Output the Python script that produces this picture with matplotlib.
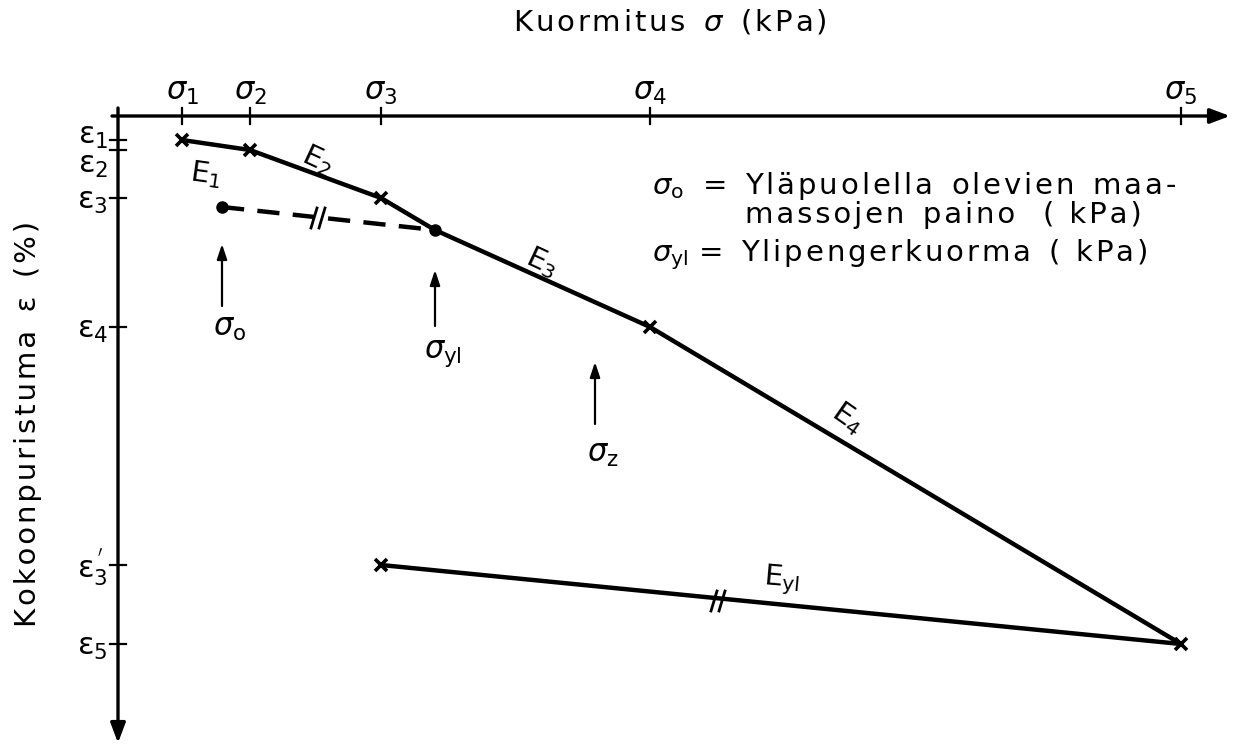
import matplotlib
matplotlib.use("Agg")
import matplotlib.pyplot as plt

plt.rcParams['font.family'] = ['DejaVu Sans']
plt.rcParams['mathtext.fontset'] = 'dejavusans'

# load steps on the horizontal axis (schematic units, origin at the axis corner)
sigma_labels = [r'$\sigma_1$', r'$\sigma_2$', r'$\sigma_3$', r'$\sigma_4$', r'$\sigma_5$']
sigma_ticks = [64, 132, 263, 532, 1063]

# strains on the vertical axis (downwards)
eps_labels = [r'$\mathrm{ε}_1$', r'$\mathrm{ε}_2$', r'$\mathrm{ε}_3$', r'$\mathrm{ε}_4$',
              r"$\mathrm{ε}_3^{\,'}$", r'$\mathrm{ε}_5$']
eps_ticks = [24, 34, 82, 211, 449, 528]

# loading curve: sigma1..sigma3, preconsolidation point, sigma4, sigma5
load_sigma = [64, 132, 263, 317, 532, 1063]
load_eps = [24, 34, 82, 114, 211, 528]
cross_idx = [0, 1, 2, 4, 5]

# unloading branch sigma5 -> sigma3
unload_sigma = [263, 1063]
unload_eps = [449, 528]

# overburden -> preconsolidation (dashed)
sigma_0 = 104
eps_0 = 91
sigma_yl = 317
eps_yl = 114
sigma_z = 477

HS = '\u200a'


def track(s):
    # slightly loose letter spacing for plain text
    return HS.join(s)


fig = plt.figure(figsize=(12.34, 7.45), dpi=100)
ax = fig.add_axes([0, 0, 1, 1])
ax.set_xlim(-118, 1116)
ax.set_ylim(629, -116)
ax.axis('off')

lw_ax = 2.4
# axes with arrow heads
ax.annotate('', xy=(1112, 0), xytext=(-6, 0),
            arrowprops=dict(arrowstyle='-|>,head_length=1.2,head_width=0.45', lw=lw_ax, color='k',
                            shrinkA=0, shrinkB=0))
ax.annotate('', xy=(0, 627), xytext=(0, -8),
            arrowprops=dict(arrowstyle='-|>,head_length=1.2,head_width=0.45', lw=lw_ax, color='k',
                            shrinkA=0, shrinkB=0))

for s, lab in zip(sigma_ticks, sigma_labels):
    ax.plot([s, s], [-8, 8], color='k', lw=1.6)
    ax.text(s, -16, lab, fontsize=22, ha='center', va='baseline')

eps_nudge = [-7, 12, 0, 0, 0, 0]
for e, lab, dy in zip(eps_ticks, eps_labels, eps_nudge):
    ax.plot([-8, 8], [e, e], color='k', lw=1.6)
    ax.text(-10, e + 3 + dy, lab, fontsize=22, ha='right', va='center')

ax.text(552, -94, track('Kuormitus') + r'  $\sigma$  ' + track('(kPa)'), fontsize=21,
        ha='center', va='center')
ax.text(-90, 308, track('Kokoonpuristuma') + '  ' + track('ε') + '  ' + track('(%)'),
        fontsize=21, ha='center', va='center', rotation=90)

# curves
ax.plot(load_sigma, load_eps, color='k', lw=3.2, solid_capstyle='round')
ax.plot(unload_sigma, unload_eps, color='k', lw=3.2, solid_capstyle='round')
ax.plot([load_sigma[i] for i in cross_idx], [load_eps[i] for i in cross_idx], 'x',
        color='k', ms=9, mew=2.6)
ax.plot(unload_sigma[0], unload_eps[0], 'x', color='k', ms=9, mew=2.6)
ax.plot([sigma_0, sigma_yl], [eps_0, eps_yl], color='k', lw=3.2, ls=(0, (5, 3)))
ax.plot([sigma_0, sigma_yl], [eps_0, eps_yl], 'o', color='k', ms=8)


# double hash marks
def hash_mark(x, y):
    for dx in (-4, 4):
        ax.plot([x + dx - 3, x + dx + 3], [y + 10, y - 10], color='k', lw=2)


hash_mark(200, 102)
hash_mark(600, 485)

# modulus labels
ax.text(88, 58, r'$\mathrm{E}_1$', fontsize=21, ha='center', va='center', rotation=-8)
ax.text(200, 44, r'$\mathrm{E}_2$', fontsize=21, ha='center', va='center', rotation=-25)
ax.text(424, 146, r'$\mathrm{E}_3$', fontsize=21, ha='center', va='center', rotation=-25)
ax.text(730, 302, r'$\mathrm{E}_4$', fontsize=21, ha='center', va='center', rotation=-35)
ax.text(664, 464, r'$\mathrm{E}_\mathrm{yl}$', fontsize=21, ha='center', va='center', rotation=-5)


# load level arrows
def load_arrow(x, y0, y1, lab, ly):
    ax.annotate('', xy=(x, y1), xytext=(x, y0),
                arrowprops=dict(arrowstyle='-|>,head_length=0.9,head_width=0.3', lw=1.6, color='k',
                                shrinkA=0, shrinkB=0))
    ax.text(x + 8, ly, lab, fontsize=22, ha='center', va='center')


load_arrow(sigma_0, 190, 128, r'$\sigma_\mathrm{o}$', 212)
load_arrow(sigma_yl, 210, 154, r'$\sigma_\mathrm{yl}$', 238)
load_arrow(sigma_z, 308, 246, r'$\sigma_\mathrm{z}$', 338)

# explanations
ax.text(534, 70, r'$\sigma_\mathrm{o}$  =  ' + track('Yläpuolella') + '  ' + track('olevien')
        + '  ' + track('maa-'), fontsize=21, ha='left', va='center')
ax.text(627, 99, track('massojen') + '  ' + track('paino') + '   ' + track('( kPa)'),
        fontsize=21, ha='left', va='center')
ax.text(534, 139, r'$\sigma_\mathrm{yl}$ =  ' + track('Ylipengerkuorma') + '  ' + track('( kPa)'),
        fontsize=21, ha='left', va='center')

fig.savefig('out.png', dpi=100)
